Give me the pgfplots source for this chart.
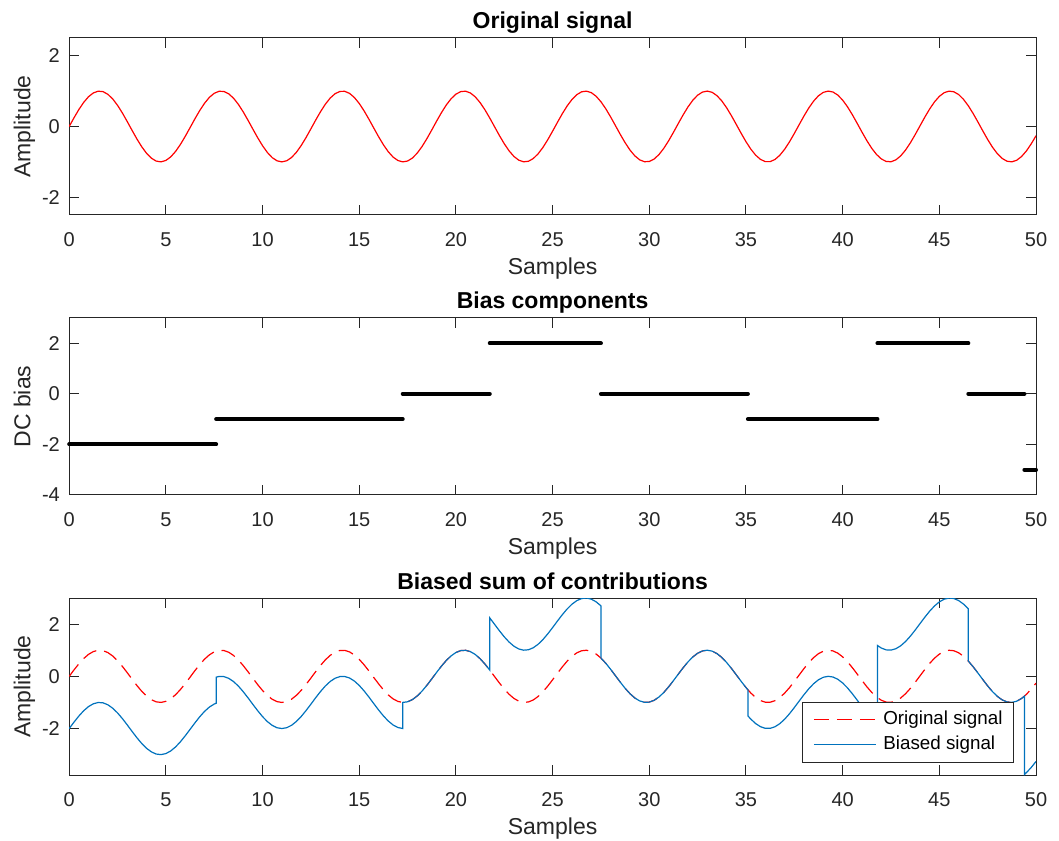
\documentclass[border=0pt]{standalone}
\usepackage{fontspec}
\setmainfont{Liberation Sans}
\usepackage{pgfplots}
\usepackage{pgfplotstable}
\pgfplotsset{compat=1.18}

\definecolor{axgray}{rgb}{0.15,0.15,0.15}
\definecolor{mblue}{rgb}{0,0.447,0.741}

% original signal, sampled every 0.25
\pgfplotstableread{
x s
0 0
0.25 0.2474
0.5 0.4794
0.75 0.6816
1 0.8415
1.25 0.9490
1.5 0.9975
1.75 0.9840
2 0.9093
2.25 0.7781
2.5 0.5985
2.75 0.3817
3 0.1411
3.25 -0.1082
3.5 -0.3508
3.75 -0.5716
4 -0.7568
4.25 -0.8950
4.5 -0.9775
4.75 -0.9993
5 -0.9589
5.25 -0.8589
5.5 -0.7055
5.75 -0.5083
6 -0.2794
6.25 -0.0332
6.5 0.2151
6.75 0.4500
7 0.6570
7.25 0.8231
7.5 0.9380
7.75 0.9946
8 0.9894
8.25 0.9226
8.5 0.7985
8.75 0.6247
9 0.4121
9.25 0.1739
9.5 -0.0752
9.75 -0.3195
10 -0.5440
10.25 -0.7347
10.5 -0.8797
10.75 -0.9700
11 -1.0000
11.25 -0.9679
11.5 -0.8755
11.75 -0.7286
12 -0.5366
12.25 -0.3111
12.5 -0.0663
12.75 0.1827
13 0.4202
13.25 0.6317
13.5 0.8038
13.75 0.9260
14 0.9906
14.25 0.9936
14.5 0.9349
14.75 0.8180
15 0.6503
15.25 0.4421
15.5 0.2065
15.75 -0.0420
16 -0.2879
16.25 -0.5160
16.5 -0.7118
16.75 -0.8636
17 -0.9614
17.25 -0.9996
17.5 -0.9756
17.75 -0.8910
18 -0.7510
18.25 -0.5643
18.5 -0.3425
18.75 -0.0994
19 0.1499
19.25 0.3898
19.5 0.6055
19.75 0.7836
20 0.9129
20.25 0.9855
20.5 0.9968
20.75 0.9461
21 0.8367
21.25 0.6751
21.5 0.4717
21.75 0.2389
22 -0.0089
22.25 -0.2560
22.5 -0.4872
22.75 -0.6880
23 -0.8462
23.25 -0.9517
23.5 -0.9981
23.75 -0.9822
24 -0.9056
24.25 -0.7724
24.5 -0.5914
24.75 -0.3734
25 -0.1324
25.25 0.1170
25.5 0.3591
25.75 0.5788
26 0.7626
26.25 0.8989
26.5 0.9792
26.75 0.9989
27 0.9564
27.25 0.8543
27.5 0.6992
27.75 0.5005
28 0.2709
28.25 0.0243
28.5 -0.2238
28.75 -0.4580
29 -0.6636
29.25 -0.8281
29.5 -0.9410
29.75 -0.9955
30 -0.9880
30.25 -0.9192
30.5 -0.7931
30.75 -0.6178
31 -0.4040
31.25 -0.1651
31.5 0.0840
31.75 0.3279
32 0.5514
32.25 0.7407
32.5 0.8839
32.75 0.9721
33 0.9999
33.25 0.9656
33.5 0.8712
33.75 0.7226
34 0.5291
34.25 0.3027
34.5 0.0575
34.75 -0.1913
35 -0.4282
35.25 -0.6386
35.5 -0.8090
35.75 -0.9293
36 -0.9918
36.25 -0.9926
36.5 -0.9318
36.75 -0.8130
37 -0.6435
37.25 -0.4342
37.5 -0.1978
37.75 0.0509
38 0.2964
38.25 0.5235
38.5 0.7180
38.75 0.8679
39 0.9638
39.25 0.9998
39.5 0.9735
39.75 0.8869
40 0.7451
40.25 0.5570
40.5 0.3342
40.75 0.0906
41 -0.1586
41.25 -0.3980
41.5 -0.6126
41.75 -0.7890
42 -0.9165
42.25 -0.9869
42.5 -0.9960
42.75 -0.9432
43 -0.8318
43.25 -0.6685
43.5 -0.4638
43.75 -0.2302
44 0.0177
44.25 0.2645
44.5 0.4949
44.75 0.6945
45 0.8509
45.25 0.9544
45.5 0.9985
45.75 0.9805
46 0.9018
46.25 0.7668
46.5 0.5842
46.75 0.3652
47 0.1236
47.25 -0.1258
47.5 -0.3673
47.75 -0.5861
48 -0.7683
48.25 -0.9027
48.5 -0.9809
48.75 -0.9985
49 -0.9538
49.25 -0.8497
49.5 -0.6929
49.75 -0.4930
50 -0.2624
}\sig

% signal plus bias, two rows at every bias step
\pgfplotstableread{
x b
0 -2
0.25 -1.7526
0.5 -1.5206
0.75 -1.3184
1 -1.1585
1.25 -1.0510
1.5 -1.0025
1.75 -1.0160
2 -1.0907
2.25 -1.2219
2.5 -1.4015
2.75 -1.6183
3 -1.8589
3.25 -2.1082
3.5 -2.3508
3.75 -2.5716
4 -2.7568
4.25 -2.8950
4.5 -2.9775
4.75 -2.9993
5 -2.9589
5.25 -2.8589
5.5 -2.7055
5.75 -2.5083
6 -2.2794
6.25 -2.0332
6.5 -1.7849
6.75 -1.5500
7 -1.3430
7.25 -1.1769
7.5 -1.0620
7.6 -1.0321
7.6 -0.0321
7.75 -0.0054
8 -0.0106
8.25 -0.0774
8.5 -0.2015
8.75 -0.3753
9 -0.5879
9.25 -0.8261
9.5 -1.0752
9.75 -1.3195
10 -1.5440
10.25 -1.7347
10.5 -1.8797
10.75 -1.9700
11 -2.0000
11.25 -1.9679
11.5 -1.8755
11.75 -1.7286
12 -1.5366
12.25 -1.3111
12.5 -1.0663
12.75 -0.8173
13 -0.5798
13.25 -0.3683
13.5 -0.1962
13.75 -0.0740
14 -0.0094
14.25 -0.0064
14.5 -0.0651
14.75 -0.1820
15 -0.3497
15.25 -0.5579
15.5 -0.7935
15.75 -1.0420
16 -1.2879
16.25 -1.5160
16.5 -1.7118
16.75 -1.8636
17 -1.9614
17.25 -1.9996
17.25 -0.9996
17.5 -0.9756
17.75 -0.8910
18 -0.7510
18.25 -0.5643
18.5 -0.3425
18.75 -0.0994
19 0.1499
19.25 0.3898
19.5 0.6055
19.75 0.7836
20 0.9129
20.25 0.9855
20.5 0.9968
20.75 0.9461
21 0.8367
21.25 0.6751
21.5 0.4717
21.75 0.2389
21.75 2.2389
22 1.9911
22.25 1.7440
22.5 1.5128
22.75 1.3120
23 1.1538
23.25 1.0483
23.5 1.0019
23.75 1.0178
24 1.0944
24.25 1.2276
24.5 1.4086
24.75 1.6266
25 1.8676
25.25 2.1170
25.5 2.3591
25.75 2.5788
26 2.7626
26.25 2.8989
26.5 2.9792
26.75 2.9989
27 2.9564
27.25 2.8543
27.5 2.6992
27.5 0.6992
27.75 0.5005
28 0.2709
28.25 0.0243
28.5 -0.2238
28.75 -0.4580
29 -0.6636
29.25 -0.8281
29.5 -0.9410
29.75 -0.9955
30 -0.9880
30.25 -0.9192
30.5 -0.7931
30.75 -0.6178
31 -0.4040
31.25 -0.1651
31.5 0.0840
31.75 0.3279
32 0.5514
32.25 0.7407
32.5 0.8839
32.75 0.9721
33 0.9999
33.25 0.9656
33.5 0.8712
33.75 0.7226
34 0.5291
34.25 0.3027
34.5 0.0575
34.75 -0.1913
35 -0.4282
35.1 -0.5162
35.1 -1.5162
35.25 -1.6386
35.5 -1.8090
35.75 -1.9293
36 -1.9918
36.25 -1.9926
36.5 -1.9318
36.75 -1.8130
37 -1.6435
37.25 -1.4342
37.5 -1.1978
37.75 -0.9491
38 -0.7036
38.25 -0.4765
38.5 -0.2820
38.75 -0.1321
39 -0.0362
39.25 -0.0002
39.5 -0.0265
39.75 -0.1131
40 -0.2549
40.25 -0.4430
40.5 -0.6658
40.75 -0.9094
41 -1.1586
41.25 -1.3980
41.5 -1.6126
41.75 -1.7890
41.8 -1.8186
41.8 1.1814
42 1.0835
42.25 1.0131
42.5 1.0040
42.75 1.0568
43 1.1682
43.25 1.3315
43.5 1.5362
43.75 1.7698
44 2.0177
44.25 2.2645
44.5 2.4949
44.75 2.6945
45 2.8509
45.25 2.9544
45.5 2.9985
45.75 2.9805
46 2.9018
46.25 2.7668
46.5 2.5842
46.5 0.5842
46.75 0.3652
47 0.1236
47.25 -0.1258
47.5 -0.3673
47.75 -0.5861
48 -0.7683
48.25 -0.9027
48.5 -0.9809
48.75 -0.9985
49 -0.9538
49.25 -0.8497
49.4 -0.7614
49.4 -3.7614
49.5 -3.6929
49.75 -3.4930
50 -3.2624
}\biased

\pgfplotsset{
  panel/.style={
    width=483.4pt, height=88.5pt, scale only axis,
    anchor=south west,
    xmin=0, xmax=50, xtick={0,5,...,50},
    axis line style={axgray, line width=0.5pt},
    tick style={axgray, line width=0.5pt},
    major tick length=4.8pt,
    tick align=inside,
    /pgf/number format/assume math mode=true,
    ticklabel style={font=\fontsize{10}{12}\selectfont, text=axgray, inner sep=0pt},
    xticklabel style={anchor=north, yshift=-8.8pt},
    yticklabel style={anchor=east, xshift=-4.5pt},
    xlabel={Samples},
    xlabel style={at={(axis description cs:0.5,0)}, anchor=north, yshift=-21pt,
      inner sep=0pt, font=\fontsize{11.5}{13}\selectfont, text=axgray},
    ylabel style={at={(axis description cs:-0.0577,0.5)}, anchor=north,
      inner sep=0pt, font=\fontsize{11.5}{13}\selectfont, text=axgray},
    title style={at={(axis description cs:0.5,1)}, anchor=base, yshift=-1.5pt,
      inner sep=0pt, font=\fontsize{11.5}{13}\selectfont\bfseries},
  },
}

\begin{document}
\begin{tikzpicture}
\path[use as bounding box] (0,0) rectangle (529.5pt,420pt);

\begin{axis}[panel, at={(34.6pt,312.5pt)},
  ymin=-2.5, ymax=2.5, ytick={-2,0,2},
  ylabel={Amplitude}, title={Original signal}]
\addplot[red, line width=0.6pt] table[x=x,y=s]{\sig};
\end{axis}

\begin{axis}[panel, at={(34.6pt,172.5pt)},
  ymin=-4, ymax=3, ytick={-4,-2,0,2}, clip=false,
  ylabel={DC bias}, title={Bias components}]
\addplot[black, line width=2pt, line cap=round, unbounded coords=jump] coordinates {
  (0,-2) (7.6,-2) (7.6,nan)
  (7.6,-1) (17.25,-1) (17.25,nan)
  (17.25,0) (21.75,0) (21.75,nan)
  (21.75,2) (27.5,2) (27.5,nan)
  (27.5,0) (35.1,0) (35.1,nan)
  (35.1,-1) (41.8,-1) (41.8,nan)
  (41.8,2) (46.5,2) (46.5,nan)
  (46.5,0) (49.4,0) (49.4,nan)
  (49.4,-3) (50,-3)
};
\end{axis}

\begin{axis}[panel, at={(34.6pt,32.5pt)},
  ymin=-3.78, ymax=3, ytick={-2,0,2},
  ylabel={Amplitude}, title={Biased sum of contributions},
  legend image code/.code={\draw[#1] (0pt,0pt) -- (31pt,0pt);},
  legend cell align=left,
  legend style={at={(0.9772,0.069)}, anchor=south east,
    draw=axgray, line width=0.5pt, fill=white,
    font=\fontsize{9.4}{11}\selectfont,
    inner xsep=5.5pt, inner ysep=3.9pt, row sep=3.1pt, column sep=3.4pt,
    nodes={inner sep=0pt, text height=7.2pt, text depth=2.4pt}}]
\addplot[red, line width=0.6pt, dash pattern=on 7.5pt off 4pt] table[x=x,y=s]{\sig};
\addplot[mblue, line width=0.6pt] table[x=x,y=b]{\biased};
\legend{Original signal, Biased signal}
\end{axis}
\end{tikzpicture}
\end{document}
